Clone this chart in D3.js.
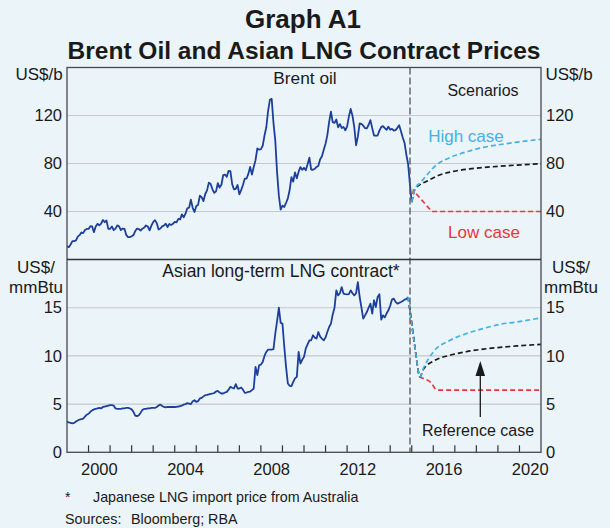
<!DOCTYPE html>
<html><head><meta charset="utf-8">
<script src="https://cdn.jsdelivr.net/npm/d3@7"></script>
<style>
body{margin:0;background:#ebf4f8;}
text{font-family:"Liberation Sans",Arial,sans-serif;fill:#1a1a1a;}
</style></head>
<body><svg id="chart" width="610" height="528"></svg>
<script>
// ---------------- DATA ----------------
const startYear = 1999; // monthly series start (Jan 1999)
const brentOil = [
 11.1,10.3,12.5,15.3,15.3,15.9,19.1,20.3,22.5,22.0,24.6,25.5,
 25.5,27.8,27.5,22.8,27.5,29.7,28.5,29.9,32.9,31.1,32.5,25.5,
 25.6,27.5,24.5,25.7,28.4,27.7,24.5,25.8,25.6,20.5,18.7,18.6,
 19.4,20.3,23.7,25.7,25.4,24.1,25.7,26.6,28.4,27.5,24.3,28.2,
 31.2,32.8,30.3,25.0,25.8,27.6,28.4,29.8,27.1,29.6,28.8,29.8,
 31.3,30.9,33.8,33.4,37.6,35.2,38.2,42.7,43.2,49.8,43.1,39.6,
 44.5,45.5,53.1,51.9,48.7,54.6,57.6,64.1,62.9,58.5,55.5,56.8,
 63.6,59.9,62.3,70.4,70.8,68.9,73.9,73.6,62.8,58.4,58.8,62.1,
 54.3,57.8,62.1,67.4,67.5,71.3,77.2,70.8,77.1,82.8,92.5,91.5,
 92.0,94.8,103.3,110.2,123.9,133.1,133.9,113.9,99.1,72.8,53.2,41.6,
 44.9,43.8,47.1,50.9,57.9,68.6,64.9,72.5,67.7,73.2,77.0,74.7,
 76.4,74.3,79.3,84.9,75.0,74.8,75.6,77.1,78.2,83.5,86.1,91.4,
 96.5,103.7,114.6,123.3,114.5,113.9,116.7,110.2,112.8,109.6,110.5,107.7,
 110.7,119.3,125.5,119.8,110.3,95.2,102.6,113.4,113.0,111.5,109.5,109.2,
 112.3,116.1,109.5,103.3,103.3,103.3,107.4,110.3,111.2,109.5,108.1,110.7,
 108.1,108.9,107.5,107.8,109.7,111.9,106.8,101.6,97.1,87.4,79.4,62.3,
 47.8
];
const lngContract = [
 3.17,3.1,3.05,3.0,3.05,3.2,3.3,3.4,3.45,3.5,3.7,3.9,
 4.0,4.2,4.35,4.45,4.5,4.55,4.6,4.55,4.7,4.75,4.8,4.85,
 4.9,4.9,4.85,4.55,4.5,4.5,4.5,4.55,4.55,4.6,4.6,4.55,
 4.45,4.2,3.8,3.75,3.85,4.1,4.4,4.5,4.5,4.55,4.55,4.6,
 4.6,4.6,4.7,4.85,4.95,4.8,4.7,4.65,4.7,4.7,4.72,4.7,
 4.7,4.72,4.75,4.8,4.85,4.95,5.0,5.1,5.05,5.0,5.3,5.4,
 5.24,5.3,5.59,5.65,5.8,5.93,5.95,6.0,6.05,6.1,6.15,6.3,
 6.38,6.2,6.1,6.1,6.2,6.27,6.5,6.79,6.7,6.62,7.07,6.62,
 6.62,6.72,6.5,6.17,6.2,6.27,6.3,6.45,6.62,8.86,8.0,9.03,
 9.1,9.38,10.0,10.41,10.66,10.66,10.66,10.7,12.3,13.6,15.0,13.42,
 13.35,11.0,8.86,7.14,6.9,6.86,7.3,7.66,7.83,10.41,9.21,9.6,
 9.9,10.77,11.2,11.62,11.62,12.14,11.9,11.8,12.48,12.0,11.8,11.62,
 11.9,12.48,13.0,13.35,14.3,15.0,16.8,16.28,16.5,17.14,16.46,16.4,
 16.39,16.4,16.8,16.5,16.28,16.5,17.66,16.11,15.0,13.87,14.2,14.55,
 15.0,15.42,14.39,15.77,15.07,16.11,16.39,13.77,14.21,14.0,14.4,14.73,
 15.2,15.84,15.94,15.6,15.42,15.5,15.59,15.7,15.84,15.9,16.11
];
// Scenario paths: [decimal year, value]
const oilReference = [[2015.0,47.8],[2015.15,58.5],[2015.35,62],[2015.67,65],[2016.23,70],[2016.95,73.5],[2017.7,75.5],[2019.3,78],[2021.0,79.8]];
const oilHigh      = [[2015.0,47.8],[2015.15,58.9],[2015.4,64],[2016.16,79],[2016.78,85],[2017.55,89.8],[2018.32,93.4],[2019.33,96.4],[2021.0,100.2]];
const oilLow       = [[2015.0,47.8],[2015.08,57.5],[2015.93,40],[2021.0,40]];
const lngReference = [[2014.833,16.11],[2014.92,14.7],[2015.15,10.9],[2015.38,7.83],[2015.54,8.6],[2016.0,9.45],[2016.78,10.07],[2017.55,10.45],[2018.32,10.7],[2019.1,10.88],[2019.87,11.03],[2021.0,11.2]];
const lngHigh      = [[2014.833,16.11],[2014.92,14.7],[2015.15,10.9],[2015.38,7.83],[2015.54,8.7],[2016.0,10.41],[2016.78,11.62],[2017.55,12.32],[2018.32,12.84],[2019.1,13.28],[2019.87,13.52],[2021.0,13.95]];
const lngLow       = [[2014.833,16.11],[2014.92,14.7],[2015.15,10.9],[2015.38,7.83],[2015.54,7.66],[2015.93,7.14],[2016.08,6.62],[2016.23,6.45],[2021.0,6.45]];
const scenarioStart = 2014.92;
const oilTicks = [40,80,120];
const lngTicks = [0,5,10,15];
const yearTicks = d3.range(2000,2021);
const yearLabels = [2000,2004,2008,2012,2016,2020];

// ---------------- LAYOUT ----------------
const L=67, R=541, T=67.5, MID=259.5, B=452.3;
const svg=d3.select("#chart");
const x=d3.scaleLinear().domain([1999,2021]).range([L,R]);
const yOil=d3.scaleLinear().domain([0,160]).range([MID,T]);
const yLng=d3.scaleLinear().domain([0,20]).range([B,MID]);

svg.append("rect").attr("width",610).attr("height",528).attr("fill","#ebf4f8");

const defs=svg.append("defs");
defs.append("clipPath").attr("id","cTop").append("rect").attr("x",L).attr("y",T).attr("width",R-L).attr("height",MID-T);
defs.append("clipPath").attr("id","cBot").append("rect").attr("x",L).attr("y",MID).attr("width",R-L).attr("height",B-MID);

const grid=svg.append("g").attr("stroke","#c5c9cc").attr("stroke-width",1.1);
oilTicks.forEach(v=>grid.append("line").attr("x1",L).attr("x2",R).attr("y1",yOil(v)).attr("y2",yOil(v)));
lngTicks.filter(v=>v>0).forEach(v=>grid.append("line").attr("x1",L).attr("x2",R).attr("y1",yLng(v)).attr("y2",yLng(v)));

function sideAxis(gen,scale,ticks,xpos){
  const g=svg.append("g").attr("transform",`translate(${xpos},0)`)
   .call(gen(scale).tickValues(ticks).tickSize(0).tickPadding(5));
  g.select(".domain").remove();
  g.selectAll("text").attr("font-size",16.5).attr("font-family","Liberation Sans, Arial, sans-serif").attr("fill","#1a1a1a");
}
sideAxis(d3.axisLeft,yOil,oilTicks,L);
sideAxis(d3.axisRight,yOil,oilTicks,R);
sideAxis(d3.axisLeft,yLng,lngTicks,L);
sideAxis(d3.axisRight,yLng,lngTicks,R);

const xt=svg.append("g").attr("stroke","#333").attr("stroke-width",1.2);
yearTicks.forEach(yr=>xt.append("line").attr("x1",x(yr)).attr("x2",x(yr)).attr("y1",B).attr("y2",B-7));
svg.append("g").selectAll("text").data(yearLabels).join("text")
  .attr("x",d=>x(d+0.5)).attr("y",475).attr("text-anchor","middle").attr("font-size",16.5).text(d=>d);

const line=d3.line().x(d=>x(d[0])).y(d=>d[1]);
const brentPts=brentOil.map((v,i)=>[startYear+i/12,yOil(v)]);
const lngPts=lngContract.map((v,i)=>[startYear+i/12,yLng(v)]);

const gTop=svg.append("g").attr("clip-path","url(#cTop)");
const gBot=svg.append("g").attr("clip-path","url(#cBot)");
const blue="#1d3f9c";
gTop.append("path").attr("d",line(brentPts)).attr("fill","none").attr("stroke",blue).attr("stroke-width",1.8).attr("stroke-linejoin","round");
gBot.append("path").attr("d",line(lngPts)).attr("fill","none").attr("stroke",blue).attr("stroke-width",1.8).attr("stroke-linejoin","round");

const sline=(ys,curve)=>d3.line().x(d=>x(d[0])).y(d=>ys(d[1])).curve(curve);
function scen(g,data,ys,color,curve){
  g.append("path").attr("d",sline(ys,curve)(data)).attr("fill","none").attr("stroke",color)
   .attr("stroke-width",1.7).attr("stroke-dasharray","5,3");
}
const cRef="#1a1a1a", cHigh="#45b1e6", cLow="#e8363f";
scen(gTop,oilLow,yOil,cLow,d3.curveLinear);
scen(gTop,oilReference,yOil,cRef,d3.curveMonotoneX);
scen(gTop,oilHigh,yOil,cHigh,d3.curveMonotoneX);
scen(gBot,lngLow,yLng,cLow,d3.curveMonotoneX);
scen(gBot,lngReference,yLng,cRef,d3.curveMonotoneX);
scen(gBot,lngHigh,yLng,cHigh,d3.curveMonotoneX);

svg.append("line").attr("x1",x(scenarioStart)).attr("x2",x(scenarioStart)).attr("y1",T).attr("y2",B)
  .attr("stroke","#555").attr("stroke-width",1.3).attr("stroke-dasharray","7,3");

svg.append("rect").attr("x",L).attr("y",T).attr("width",R-L).attr("height",B-T).attr("fill","none").attr("stroke","#4a4a4a").attr("stroke-width",1.3);
svg.append("line").attr("x1",L).attr("x2",R).attr("y1",MID).attr("y2",MID).attr("stroke","#333").attr("stroke-width",1.5);

svg.append("line").attr("x1",480.3).attr("x2",480.3).attr("y1",417).attr("y2",372).attr("stroke","#1a1a1a").attr("stroke-width",1.3);
svg.append("path").attr("d","M480.3,361 L475.5,376 L485.1,376 Z").attr("fill","#1a1a1a");

const txt=(s,xp,yp,opt={})=>svg.append("text").attr("x",xp).attr("y",yp)
  .attr("font-size",opt.size||17).attr("text-anchor",opt.anchor||"start")
  .attr("font-weight",opt.weight||"normal").style("fill",opt.color||"#1a1a1a").text(s);
txt("Graph A1",303,28,{size:26,anchor:"middle",weight:"bold"});
txt("Brent Oil and Asian LNG Contract Prices",304,59,{size:24.5,anchor:"middle",weight:"bold"});
txt("US$/b",39,80,{anchor:"middle"});
txt("US$/b",569,80,{anchor:"middle"});
txt("US$/",36,273,{anchor:"middle"});
txt("mmBtu",36,293,{anchor:"middle"});
txt("US$/",571,273,{anchor:"middle"});
txt("mmBtu",571,293,{anchor:"middle"});
txt("Brent oil",305,84,{anchor:"middle",size:17.3});
txt("Asian long-term LNG contract*",281,277,{anchor:"middle",size:17.5});
txt("Scenarios",483,96,{size:16,anchor:"middle"});
txt("High case",466,142,{size:17,anchor:"middle",color:cHigh});
txt("Low case",484,238,{size:17,anchor:"middle",color:cLow});
txt("Reference case",478,436,{anchor:"middle",size:16});
txt("*",65,502,{size:14});
txt("Japanese LNG import price from Australia",93,502,{size:14.3});
txt("Sources:",65,524,{size:14.3});
txt("Bloomberg; RBA",131,524,{size:14.3});
</script></body></html>
